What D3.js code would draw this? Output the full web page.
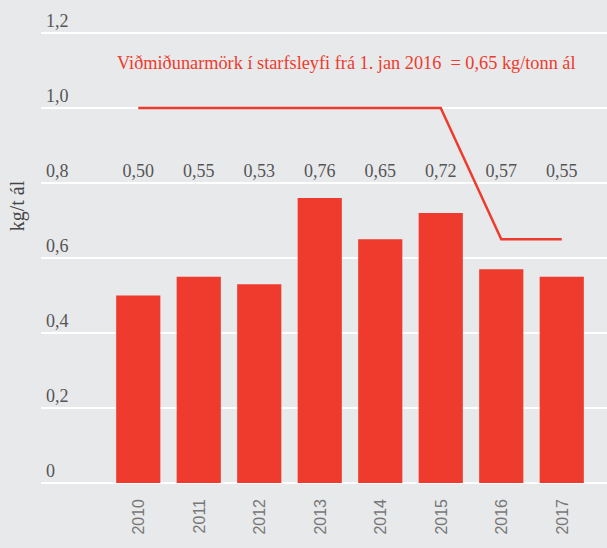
<!DOCTYPE html>
<html>
<head>
<meta charset="utf-8">
<script src="https://cdn.jsdelivr.net/npm/d3@7"></script>
<style>
  html, body { margin: 0; padding: 0; background: #e8e9eb; }
  svg { display: block; }
</style>
</head>
<body>
<svg id="chart"></svg>
<script>
// data
const years = ["2010", "2011", "2012", "2013", "2014", "2015", "2016", "2017"];
const values = [0.50, 0.55, 0.53, 0.76, 0.65, 0.72, 0.57, 0.55];
const limitYears = ["2010", "2015", "2016", "2017"];
const limitValues = [1.0, 1.0, 0.65, 0.65];
const yTicks = [0, 0.2, 0.4, 0.6, 0.8, 1.0, 1.2];
const limitText = "Viðmiðunarmörk í starfsleyfi frá 1. jan 2016  = 0,65 kg/tonn ál";
const yTitle = "kg/t ál";

const width = 607, height = 548;
const red = "#ee3b2d";
const serif = "'Liberation Serif', 'Times New Roman', serif";
const fmt = v => d3.format(".2f")(v).replace(".", ",");
const tickFmt = v => v === 0 ? "0" : d3.format(".1f")(v).replace(".", ",");

const svg = d3.select("#chart")
    .attr("width", width)
    .attr("height", height);

svg.append("rect")
    .attr("width", width)
    .attr("height", height)
    .attr("fill", "#e8e9eb");

const x = d3.scaleBand()
    .domain(years)
    .range([108, 592])
    .paddingInner(0.27)
    .paddingOuter(0.135);

const y = d3.scaleLinear()
    .domain([0, 1.2])
    .range([483, 33]);

// grid lines + tick labels
const grid = svg.append("g");
grid.selectAll("line")
    .data(yTicks)
    .enter()
    .append("line")
    .attr("x1", 41)
    .attr("x2", width)
    .attr("y1", d => y(d))
    .attr("y2", d => y(d))
    .attr("stroke", "#fff")
    .attr("stroke-width", 2);

grid.selectAll("text")
    .data(yTicks)
    .enter()
    .append("text")
    .attr("x", 46)
    .attr("y", d => y(d) - 6)
    .attr("font-family", serif)
    .attr("font-size", "18px")
    .attr("fill", "#555")
    .text(tickFmt);

// bars
svg.append("g")
    .selectAll("rect")
    .data(values)
    .enter()
    .append("rect")
    .attr("x", (d, i) => x(years[i]))
    .attr("y", d => y(d))
    .attr("width", x.bandwidth())
    .attr("height", d => y(0) - y(d))
    .attr("fill", red);

// value labels
svg.append("g")
    .selectAll("text")
    .data(values)
    .enter()
    .append("text")
    .attr("x", (d, i) => x(years[i]) + x.bandwidth() / 2)
    .attr("y", 177)
    .attr("text-anchor", "middle")
    .attr("font-family", serif)
    .attr("font-size", "18px")
    .attr("fill", "#555")
    .text(fmt);

// limit line
const line = d3.line()
    .x((d, i) => x(limitYears[i]) + x.bandwidth() / 2)
    .y(d => y(d));

svg.append("path")
    .datum(limitValues)
    .attr("d", line)
    .attr("fill", "none")
    .attr("stroke", red)
    .attr("stroke-width", 2.5);

svg.append("text")
    .attr("x", 117)
    .attr("y", 69)
    .attr("font-family", serif)
    .attr("font-size", "18.3px")
    .attr("fill", red)
    .style("white-space", "pre")
    .text(limitText);

// year labels
svg.append("g")
    .selectAll("text")
    .data(years)
    .enter()
    .append("text")
    .attr("transform", d => `translate(${x(d) + x.bandwidth() / 2 + 6}, 499) rotate(-90)`)
    .attr("text-anchor", "end")
    .attr("font-family", "'Liberation Sans', Arial, sans-serif")
    .attr("font-size", "16px")
    .attr("fill", "#777")
    .text(d => d);

// y axis title
svg.append("text")
    .attr("transform", "translate(24, 206) rotate(-90)")
    .attr("text-anchor", "middle")
    .attr("font-family", serif)
    .attr("font-size", "20px")
    .attr("fill", "#444")
    .text(yTitle);
</script>
</body>
</html>
